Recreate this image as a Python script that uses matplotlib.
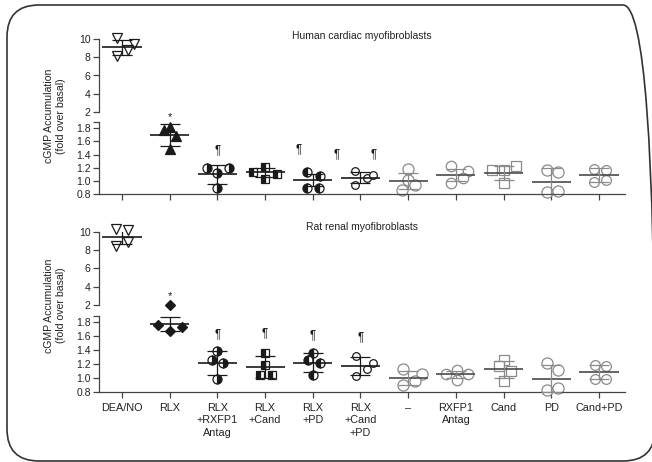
import matplotlib
matplotlib.use('Agg')
import matplotlib.pyplot as plt
from matplotlib.patches import FancyBboxPatch
from matplotlib.transforms import IdentityTransform

plt.rcParams['font.family'] = ['Liberation Sans', 'DejaVu Sans']

W, H = 652, 462

categories = ["DEA/NO", "RLX", "RLX\n+RXFP1\nAntag", "RLX\n+Cand", "RLX\n+PD",
              "RLX\n+Cand\n+PD", "\u2013", "RXFP1\nAntag", "Cand", "PD", "Cand+PD"]

human_values = [
    [10.1, 9.5, 8.85, 8.2],
    [1.77, 1.82, 1.68, 1.48],
    [1.19, 1.12, 1.19, 0.89],
    [1.14, 1.21, 1.11, 1.03],
    [1.14, 1.08, 0.90, 0.90],
    [1.15, 1.05, 1.09, 0.94],
    [1.18, 1.01, 0.87, 0.94],
    [1.22, 1.15, 1.04, 0.97],
    [1.17, 1.17, 1.22, 0.97],
    [1.17, 1.14, 0.83, 0.855],
    [1.18, 1.17, 0.99, 1.01],
]
human_jitter = [
    [-0.11, 0.26, 0.13, -0.11],
    [-0.11, 0.01, 0.13, 0.01],
    [-0.22, 0.0, 0.25, 0.0],
    [-0.26, 0.0, 0.26, 0.0],
    [-0.13, 0.15, -0.13, 0.12],
    [-0.12, 0.13, 0.26, -0.12],
    [0.0, 0.0, -0.12, 0.14],
    [-0.10, 0.26, 0.14, -0.10],
    [-0.25, 0.0, 0.25, 0.0],
    [-0.10, 0.13, -0.10, 0.13],
    [-0.10, 0.14, -0.10, 0.14],
]
human_mean = [9.1, 1.69, 1.10, 1.13, 1.01, 1.05, 1.00, 1.09, 1.12, 0.99, 1.09]
human_sd = [0.78, 0.165, 0.14, 0.07, 0.09, 0.08, 0.125, 0.09, 0.11, 0.20, 0.10]
human_marks = [(1.0, 1.965, '*'), (2.0, 1.46, '\u00b6'), (3.71, 1.48, '\u00b6'),
               (4.5, 1.40, '\u00b6'), (5.27, 1.40, '\u00b6')]

rat_values = [
    [10.33, 10.2, 8.44, 8.88],
    [1.76, 1.68, 1.73, 2.0],
    [1.38, 1.26, 1.21, 0.98],
    [1.36, 1.19, 1.04, 1.04],
    [1.36, 1.25, 1.22, 1.04],
    [1.32, 1.22, 1.13, 1.03],
    [1.12, 1.05, 0.955, 0.90],
    [1.05, 1.11, 1.05, 0.97],
    [1.26, 1.17, 1.10, 0.95],
    [1.21, 1.11, 0.82, 0.85],
    [1.18, 1.17, 0.98, 0.99],
]
rat_jitter = [
    [-0.13, 0.12, -0.13, 0.12],
    [-0.24, 0.0, 0.26, 0.0],
    [0.0, -0.12, 0.12, 0.0],
    [0.0, 0.0, -0.11, 0.15],
    [0.0, -0.11, 0.15, 0.0],
    [-0.10, 0.26, 0.14, -0.10],
    [-0.10, 0.28, 0.14, -0.10],
    [-0.21, 0.02, 0.26, 0.02],
    [0.01, -0.10, 0.15, 0.01],
    [-0.08, 0.14, -0.08, 0.14],
    [-0.08, 0.15, -0.08, 0.15],
]
rat_mean = [9.42, 1.77, 1.21, 1.16, 1.22, 1.17, 1.00, 1.05, 1.12, 0.99, 1.09]
rat_sd = [0.75, 0.10, 0.17, 0.16, 0.135, 0.125, 0.10, 0.05, 0.12, 0.19, 0.10]
rat_marks = [(1.0, 3.0, '*'), (2.0, 1.63, '\u00b6'), (3.0, 1.64, '\u00b6'),
             (4.0, 1.62, '\u00b6'), (5.0, 1.58, '\u00b6')]

BLK = '#1a1a1a'
GRY = '#8a8a8a'
GRY_D = '#4a4a4a'

def styles(second_marker):
    return [
        dict(marker='v', ms=7, mfc='white', mec=BLK, mew=0.9),
        second_marker,
        dict(marker='o', ms=6.5, mfc=BLK, mec=BLK, mew=0.9, fillstyle='right', markerfacecoloralt='white'),
        dict(marker='s', ms=6, mfc=BLK, mec=BLK, mew=0.9, fillstyle='left', markerfacecoloralt='white'),
        dict(marker='o', ms=6.5, mfc=BLK, mec=BLK, mew=0.9, fillstyle='left', markerfacecoloralt='white'),
        dict(marker='o', ms=5.5, mfc='white', mec=BLK, mew=0.9),
        dict(marker='o', ms=8, mfc='white', mec=GRY, mew=0.9),
        dict(marker='o', ms=7.5, mfc='white', mec=GRY, mew=0.9),
        dict(marker='s', ms=7, mfc='white', mec=GRY, mew=0.9),
        dict(marker='o', ms=8, mfc='white', mec=GRY, mew=0.9),
        dict(marker='o', ms=7, mfc='white', mec=GRY, mew=0.9),
    ]

human_styles = styles(dict(marker='^', ms=7, mfc=BLK, mec=BLK, mew=0.9))
rat_styles = styles(dict(marker='D', ms=5, mfc=BLK, mec=BLK, mew=0.9))

fig = plt.figure(figsize=(W / 100, H / 100), dpi=100)

def add_ax(top_px, bot_px):
    return fig.add_axes([99 / W, 1 - bot_px / H, 526 / W, (bot_px - top_px) / H])

XLIM = (-0.482, 10.545)
SPC = '#444444'

def style_axes(ax_up, ax_lo, lo_top, show_labels):
    for ax in (ax_up, ax_lo):
        ax.set_xlim(*XLIM)
        ax.patch.set_alpha(0)
        for s in ('top', 'right'):
            ax.spines[s].set_visible(False)
        ax.spines['left'].set_color(SPC)
        ax.spines['left'].set_linewidth(0.9)
        ax.tick_params(axis='y', length=4, width=0.9, color=SPC, labelsize=7.5,
                       labelcolor='#222222', pad=2)
    ax_up.spines['bottom'].set_visible(False)
    ax_up.set_xticks([])
    ax_up.set_ylim(2, 10)
    ax_up.set_yticks([2, 4, 6, 8, 10])
    ax_lo.set_ylim(0.8, lo_top)
    ticks = [0.8, 1.0, 1.2, 1.4, 1.6, 1.8, lo_top]
    ax_lo.set_yticks(ticks)
    ax_lo.set_yticklabels(['0.8', '1.0', '1.2', '1.4', '1.6', '1.8', ''])
    ax_lo.spines['bottom'].set_color(SPC)
    ax_lo.spines['bottom'].set_linewidth(0.9)
    ax_lo.set_xticks(range(len(categories)))
    ax_lo.tick_params(axis='x', length=4, width=0.9, color=SPC, labelsize=7.8,
                      labelcolor='#222222', pad=4)
    if show_labels:
        ax_lo.set_xticklabels(categories, linespacing=1.3)
    else:
        ax_lo.set_xticklabels([])

def draw_panel(ax_up, ax_lo, values, jitter, mean, sd, marks, stys):
    for i, (vals, jit) in enumerate(zip(values, jitter)):
        sty = stys[i]
        grey = i >= 6
        lc = GRY_D if grey else BLK
        ec = GRY if grey else BLK
        for v, j in zip(vals, jit):
            ax = ax_up if v >= 1.95 else ax_lo
            ax.plot([i + j], [v], linestyle='none', clip_on=False, zorder=2, **sty)
        ax = ax_up if mean[i] >= 1.95 else ax_lo
        ax.plot([i - 0.41, i + 0.41], [mean[i], mean[i]], color=lc, lw=1.2, zorder=3,
                solid_capstyle='butt')
        ax.errorbar(i, mean[i], yerr=sd[i], fmt='none', ecolor=ec, elinewidth=0.9,
                    capsize=7, capthick=0.9, zorder=3)
    for x, y, s in marks:
        ax = ax_up if y >= 2.5 else ax_lo
        fs = 8 if s == '*' else 8.5
        ax.text(x, y, s, ha='center', va='center', fontsize=fs, color=BLK, clip_on=False)

# Human panel
h_up = add_ax(39.3, 111.7)
h_lo = add_ax(122.0, 194.3)
style_axes(h_up, h_lo, 1.89, False)
draw_panel(h_up, h_lo, human_values, human_jitter, human_mean, human_sd, human_marks, human_styles)

# Rat panel
r_up = add_ax(232.0, 304.7)
r_lo = add_ax(316.0, 391.7)
style_axes(r_up, r_lo, 1.89, True)
draw_panel(r_up, r_lo, rat_values, rat_jitter, rat_mean, rat_sd, rat_marks, rat_styles)

fig.text(362 / W, 1 - 36 / H, 'Human cardiac myofibroblasts', ha='center', va='center',
         fontsize=7.5, color='#222222')
fig.text(362 / W, 1 - 227 / H, 'Rat renal myofibroblasts', ha='center', va='center',
         fontsize=7.5, color='#222222')

for yc in (116, 305.5):
    fig.text(55 / W, 1 - yc / H, 'cGMP Accumulation\n(fold over basal)', rotation=90,
             ha='center', va='center', fontsize=7.6, color='#222222', linespacing=1.2)

frame = FancyBboxPatch((7, 1), 648, 456, boxstyle='round,pad=0,rounding_size=32',
                       transform=IdentityTransform(), fill=False, lw=1.2, ec='#333333')
fig.patches.append(frame)

fig.savefig('out.png', dpi=100)
